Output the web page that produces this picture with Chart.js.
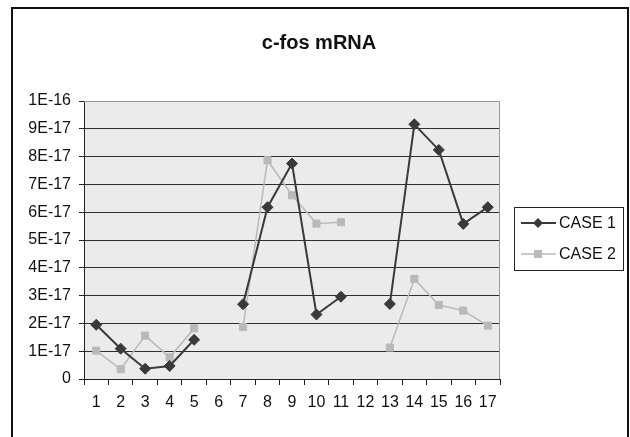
<!DOCTYPE html>
<html>
<head>
<meta charset="utf-8">
<script src="https://cdn.jsdelivr.net/npm/chart.js@4"></script>
<style>
  html, body { margin: 0; padding: 0; background: #fff; }
  #wrap { width: 630px; height: 437px; }
</style>
</head>
<body>
<div id="wrap"><canvas id="cfoscanvas" width="630" height="437"></canvas></div>
<script>
var chartTitle = 'c-fos mRNA';

var categories = ['1', '2', '3', '4', '5', '6', '7', '8', '9', '10',
                  '11', '12', '13', '14', '15', '16', '17'];

// sample 6 and 12 have no measurement (gaps in both lines)
var case1 = [1.95e-17, 1.09e-17, 0.37e-17, 0.47e-17, 1.41e-17, null,
             2.69e-17, 6.18e-17, 7.75e-17, 2.32e-17, 2.96e-17, null,
             2.70e-17, 9.16e-17, 8.24e-17, 5.58e-17, 6.18e-17];

var case2 = [1.02e-17, 0.35e-17, 1.56e-17, 0.78e-17, 1.82e-17, null,
             1.87e-17, 7.87e-17, 6.61e-17, 5.59e-17, 5.64e-17, null,
             1.13e-17, 3.60e-17, 2.66e-17, 2.46e-17, 1.92e-17];

var yTickLabels = ['0', '1E-17', '2E-17', '3E-17', '4E-17', '5E-17',
                   '6E-17', '7E-17', '8E-17', '9E-17', '1E-16'];

var seriesNames = ['CASE 1', 'CASE 2'];

var FONT = '"Liberation Sans", Arial, sans-serif';

var dark = '#3a3a3a';
var light = '#b9b9b9';

// excel-ish frame, title, plot background and legend drawn by hand
var excelLook = {
  id: 'excelLook',
  beforeDraw: function (chart) {
    var ctx = chart.ctx;
    var a = chart.chartArea;
    ctx.save();
    ctx.fillStyle = '#ebebeb';
    ctx.fillRect(a.left, a.top, a.right - a.left, a.bottom - a.top);
    ctx.restore();
  },
  afterDraw: function (chart) {
    var ctx = chart.ctx;
    var a = chart.chartArea;
    ctx.save();

    // plot area border (top + right)
    ctx.strokeStyle = '#9a9a9a';
    ctx.lineWidth = 1;
    ctx.beginPath();
    ctx.moveTo(a.left, a.top + 0.5);
    ctx.lineTo(a.right - 0.5, a.top + 0.5);
    ctx.lineTo(a.right - 0.5, a.bottom);
    ctx.stroke();

    // outer chart border
    ctx.strokeStyle = '#111';
    ctx.lineWidth = 2;
    ctx.strokeRect(12, 8, 616, 440);

    // title
    ctx.fillStyle = '#111';
    ctx.font = 'bold 20px ' + FONT;
    ctx.textAlign = 'center';
    ctx.textBaseline = 'middle';
    ctx.fillText(chartTitle, 319, 43);

    // legend
    ctx.lineWidth = 1;
    ctx.strokeStyle = '#222';
    ctx.strokeRect(514.5, 207.5, 109, 63);

    var rows = [223, 254];
    chart.data.datasets.forEach(function (ds, i) {
      var y = rows[i];
      ctx.strokeStyle = ds.borderColor;
      ctx.lineWidth = ds.borderWidth;
      ctx.beginPath();
      ctx.moveTo(521, y);
      ctx.lineTo(556, y);
      ctx.stroke();
      ctx.fillStyle = ds.pointBackgroundColor;
      ctx.beginPath();
      if (ds.pointStyle === 'rectRot') {
        ctx.moveTo(538, y - 5);
        ctx.lineTo(543, y);
        ctx.lineTo(538, y + 5);
        ctx.lineTo(533, y);
        ctx.closePath();
      } else {
        ctx.rect(534, y - 4, 8, 8);
      }
      ctx.fill();
      ctx.fillStyle = '#111';
      ctx.font = '16px ' + FONT;
      ctx.textAlign = 'left';
      ctx.textBaseline = 'middle';
      ctx.fillText(ds.label, 559, y + 1);
    });

    ctx.restore();
  }
};

var ctx = document.getElementById('cfoscanvas').getContext('2d');
var chart = new Chart(ctx, {
  type: 'line',
  data: {
    labels: categories,
    datasets: [
      {
        label: seriesNames[0],
        data: case1,
        borderColor: dark,
        borderWidth: 2,
        pointStyle: 'rectRot',
        pointRadius: 5.5,
        pointBackgroundColor: dark,
        pointBorderColor: dark,
        pointBorderWidth: 1,
        spanGaps: false,
        tension: 0
      },
      {
        label: seriesNames[1],
        data: case2,
        borderColor: light,
        borderWidth: 1.5,
        pointStyle: 'rect',
        pointRadius: 5,
        pointBackgroundColor: light,
        pointBorderColor: light,
        pointBorderWidth: 1,
        spanGaps: false,
        tension: 0
      }
    ]
  },
  options: {
    responsive: false,
    animation: false,
    layout: { padding: { left: 0, right: 130, top: 101, bottom: 0 } },
    plugins: {
      legend: { display: false },
      title: { display: false },
      tooltip: { enabled: false }
    },
    scales: {
      x: {
        type: 'category',
        offset: true,
        afterFit: function (scale) { scale.height = 58; },
        grid: {
          offset: true,
          drawOnChartArea: false,
          drawTicks: true,
          tickLength: 6,
          tickColor: '#222',
          color: '#222'
        },
        border: { color: '#222', width: 1 },
        ticks: {
          color: '#111',
          padding: 8,
          maxRotation: 0,
          autoSkip: false,
          font: { family: FONT, size: 16 }
        }
      },
      y: {
        min: 0,
        max: 1e-16,
        afterFit: function (scale) { scale.width = 84; },
        grid: {
          color: function (c) {
            return c.index === yTickLabels.length - 1 ? '#9a9a9a' : '#2e2e2e';
          },
          tickColor: '#222',
          tickLength: 5,
          lineWidth: 1
        },
        border: { color: '#222', width: 1 },
        ticks: {
          stepSize: 1e-17,
          color: '#111',
          padding: 8,
          font: { family: FONT, size: 16 },
          callback: function (value, index) {
            return yTickLabels[index];
          }
        }
      }
    }
  },
  plugins: [excelLook]
});
</script>
</body>
</html>
